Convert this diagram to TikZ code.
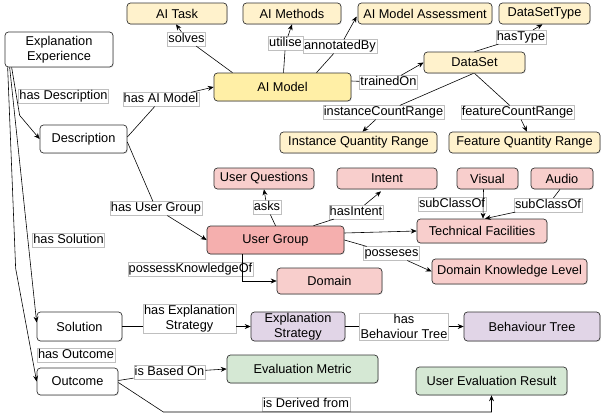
\documentclass[tikz,border=0pt]{standalone}
\usepackage{fontspec}
\setmainfont{Liberation Sans}
\usetikzlibrary{arrows.meta,calc,shadows}

\definecolor{plainFill}{HTML}{FFFFFF}
\definecolor{yellowFill}{HTML}{FFF2CC}
\definecolor{modelFill}{HTML}{FFEFA6}
\definecolor{pinkFill}{HTML}{F8CECC}
\definecolor{groupFill}{HTML}{F5AFAE}
\definecolor{purpleFill}{HTML}{E1D5E7}
\definecolor{greenFill}{HTML}{D5E8D4}

\begin{document}
\begin{tikzpicture}[x=0.03cm, y=-0.03cm,
    font=\fontsize{10.9}{12.8}\selectfont,
    box/.style={draw=black!80, rounded corners=3pt, inner sep=0pt, align=center, line width=0.6pt,
        drop shadow={shadow xshift=0.8pt, shadow yshift=-0.8pt, opacity=0.18}},
    lbl/.style={draw=black!25, fill=white, inner xsep=0.8pt, inner ysep=0.6pt, text height=8.2pt, text depth=2.3pt, line width=0.4pt},
    lbltwo/.style={draw=black!25, fill=white, inner xsep=0.8pt, inner ysep=1pt, align=center, line width=0.4pt},
    arr/.style={-{Stealth[length=5pt,width=4.2pt]}, line width=0.5pt}]

    \useasboundingbox (0,0) rectangle (603,417);

    % Top level
    \node[box, fill=plainFill, minimum width=3.24cm, minimum height=1.05cm] (ee) at (59,49.5) {Explanation\\Experience};
    \node[box, fill=plainFill, minimum width=2.61cm, minimum height=0.84cm] (desc) at (83.5,139) {Description};
    \node[box, fill=plainFill, minimum width=2.55cm, minimum height=0.87cm] (sol) at (79.5,326.5) {Solution};
    \node[box, fill=plainFill, minimum width=2.43cm, minimum height=0.81cm] (outc) at (77.5,381.5) {Outcome};

    % AI model part
    \node[box, fill=yellowFill, minimum width=3.0cm, minimum height=0.63cm] (aitask) at (177,13.5) {AI Task};
    \node[box, fill=yellowFill, minimum width=2.94cm, minimum height=0.63cm] (aimethods) at (292,13.5) {AI Methods};
    \node[box, fill=yellowFill, minimum width=4.02cm, minimum height=0.63cm] (assess) at (425,13.5) {AI Model Assessment};
    \node[box, fill=yellowFill, minimum width=2.73cm, minimum height=0.63cm] (dstype) at (544.5,13.5) {DataSetType};
    \node[box, fill=modelFill, minimum width=4.11cm, minimum height=0.84cm] (aimodel) at (282.5,87) {AI Model};
    \node[box, fill=yellowFill, minimum width=3.03cm, minimum height=0.63cm] (dataset) at (474.5,62.5) {DataSet};
    \node[box, fill=yellowFill, minimum width=4.71cm, minimum height=0.63cm] (iqr) at (358.5,142.5) {Instance Quantity Range};
    \node[box, fill=yellowFill, minimum width=4.53cm, minimum height=0.63cm] (fqr) at (524.5,142.5) {Feature Quantity Range};

    % User group part
    \node[box, fill=pinkFill, minimum width=3.0cm, minimum height=0.63cm] (uq) at (264,178.5) {User Questions};
    \node[box, fill=pinkFill, minimum width=3.0cm, minimum height=0.63cm] (intent) at (387,178.5) {Intent};
    \node[box, fill=pinkFill, minimum width=1.83cm, minimum height=0.63cm] (visual) at (487.5,178.5) {Visual};
    \node[box, fill=pinkFill, minimum width=1.86cm, minimum height=0.63cm] (audio) at (562,178.5) {Audio};
    \node[box, fill=groupFill, minimum width=4.11cm, minimum height=0.84cm] (ug) at (275.5,240) {User Group};
    \node[box, fill=pinkFill, minimum width=3.9cm, minimum height=0.72cm] (tf) at (482,231) {Technical Facilities};
    \node[box, fill=pinkFill, minimum width=4.65cm, minimum height=0.75cm] (dkl) at (509.5,271.5) {Domain Knowledge Level};
    \node[box, fill=pinkFill, minimum width=3.15cm, minimum height=0.78cm] (domain) at (329.5,281) {Domain};

    % Solution and outcome part
    \node[box, fill=purpleFill, minimum width=2.82cm, minimum height=0.87cm] (es) at (298,326.5) {Explanation\\Strategy};
    \node[box, fill=purpleFill, minimum width=4.08cm, minimum height=0.87cm] (bt) at (532,326.5) {Behaviour Tree};
    \node[box, fill=greenFill, minimum width=4.53cm, minimum height=0.84cm] (em) at (302.5,369) {Evaluation Metric};
    \node[box, fill=greenFill, minimum width=4.53cm, minimum height=0.84cm] (uer) at (491.5,381) {User Evaluation Result};

    % Labels
    \node[lbl] (lSolves) at (186.5,39) {solves};
    \node[lbl] (lUtilise) at (285.5,43.5) {utilise};
    \node[lbl] (lAnnot) at (340,46.5) {annotatedBy};
    \node[lbl] (lTrained) at (388.5,82.5) {trainedOn};
    \node[lbl] (lHasType) at (521,37) {hasType};
    \node[lbl] (lInst) at (383.5,112.5) {instanceCountRange};
    \node[lbl] (lFeat) at (517.5,112.5) {featureCountRange};
    \node[lbl] (lHasDesc) at (63.5,96.5) {has Description};
    \node[lbl] (lHasModel) at (161,99.5) {has AI Model};
    \node[lbl] (lHasGroup) at (156,208.5) {has User Group};
    \node[lbl] (lHasSol) at (68.5,240) {has Solution};
    \node[lbl] (lHasOut) at (76,355) {has Outcome};
    \node[lbl] (lAsks) at (267,207.5) {asks};
    \node[lbl] (lIntent) at (356,212) {hasIntent};
    \node[lbl] (lPosseses) at (391.5,253.5) {posseses};
    \node[lbl] (lKnows) at (190.5,269.5) {possessKnowledgeOf};
    \node[lbl] (lSubVis) at (452,204) {subClassOf};
    \node[lbl] (lSubAud) at (548,205) {subClassOf};
    \node[lbltwo] (lHasES) at (189.5,318.5) {has Explanation\\Strategy};
    \node[lbltwo] (lHasBT) at (404,326.5) {has\\Behaviour Tree};
    \node[lbl] (lBased) at (169.5,372.5) {is Based On};
    \node[lbl] (lDerived) at (306,404) {is Derived from};

    % Explanation experience links
    \draw[arr] ($(ee.south west)+(7,0)$) -- ($(ee.south west)+(15,48)$) -- (desc.west);
    \draw[arr] ($(ee.south west)+(5,0)$) -- ($(sol.west)+(0,-4)$);
    \draw[arr] ($(ee.south west)+(3,0)$) -- ($(ee.south west)+(11,201)$) -- (outc.west);

    % AI model links
    \draw[arr] ($(desc.east)+(0,-2)$) -- (lHasModel) -- (aimodel.west);
    \draw[arr] ($(aimodel.north)+(-50,0)$) -- (lSolves) -- ($(aitask.south)+(-1,0)$);
    \draw[arr] ($(aimodel.north)+(1,0)$) -- (lUtilise) -- (aimethods.south);
    \draw[arr] ($(aimodel.north)+(34,0)$) -- (lAnnot) -- ($(assess.west)+(-1,3)$);
    \draw[arr] ($(aimodel.east)+(0,-6)$) -- (lTrained) -- (dataset.west);
    \draw[arr] (dataset.north) -- (lHasType) -- ($(dstype.south)+(-2,0)$);
    \draw[arr] ($(dataset.south)+(-1,0)$) -- (lInst) -- ($(iqr.north)+(4,0)$);
    \draw[arr] (dataset.south) -- (lFeat) -- ($(fqr.north)+(2.5,0)$);

    % User group links
    \draw[arr] ($(desc.east)+(0,3)$) -- (lHasGroup) -- (ug.west);
    \draw[arr] (ug.north) -- (lAsks) -- (uq.south);
    \draw[arr] ($(ug.north)+(38,0)$) -- (lIntent) -- ($(intent.south)+(-6,2)$);
    \draw[arr] ($(ug.east)+(0,-7)$) -- (tf.west);
    \draw[arr] (ug.east) -- (lPosseses) -- (dkl.west);
    \draw[arr] ($(ug.south)+(-33,0)$) |- (domain.west);
    \draw[arr] ($(visual.south)+(-4,0)$) -- ($(tf.north)+(1,0)$);
    \draw[arr] ($(audio.south)+(-2,0)$) -- (lSubAud) -- ($(tf.north)+(3,0)$);

    % Solution and outcome links
    \draw (sol.east) -- (sol.east -| lHasES.west);
    \draw[arr] (lHasES.east |- es.west) -- (es.west);
    \draw[arr] (es.east) -- (lHasBT) -- (bt.west);
    \draw[arr] ($(outc.east)+(0,-1)$) -- (lBased) -- (em.west);
    \coordinate (dCorner) at ($(outc.east)+(45,30.5)$);
    \draw[arr] ($(outc.east)+(0,1)$) -- (dCorner) -- (dCorner -| uer.south) -- (uer.south);

\end{tikzpicture}
\end{document}
